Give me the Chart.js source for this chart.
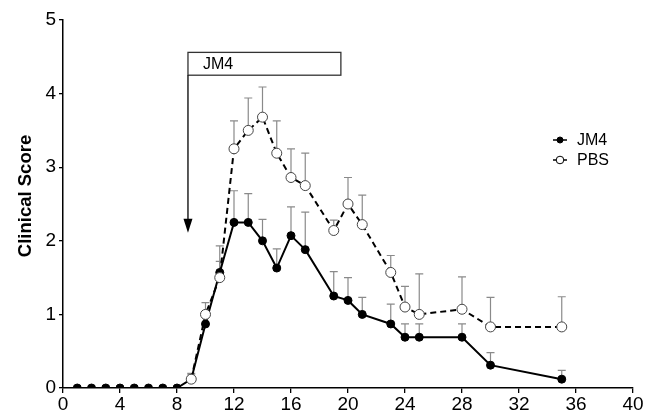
<!DOCTYPE html>
<html><head><meta charset="utf-8">
<script src="https://cdn.jsdelivr.net/npm/chart.js@4.4.0/dist/chart.umd.min.js"></script>
<style>html,body{margin:0;padding:0;background:#fff;}#wrap{width:655px;height:419px;}</style>
</head><body><div id="wrap"><canvas id="c" width="655" height="419"></canvas></div>
<script>
const days = [1,2,3,4,5,6,7,8,9,10,11,12,13,14,15,16,17,19,20,21,23,24,25,28,30,35];
const jm4 = [0,0,0,0,0,0,0,0,0.12,0.87,1.57,2.25,2.25,2.0,1.63,2.07,1.88,1.25,1.19,1.0,0.87,0.69,0.69,0.69,0.31,0.12];
const jm4Err = [0,0,0,0,0,0,0,0,0.08,0.15,0.15,0.43,0.39,0.29,0.26,0.39,0.51,0.33,0.31,0.23,0.27,0.18,0.18,0.18,0.17,0.12];
const pbsDays = [9,10,11,12,13,14,15,16,17,19,20,21,23,24,25,28,30,35];
const pbs = [0.12,1.0,1.5,3.25,3.5,3.68,3.19,2.86,2.75,2.14,2.5,2.22,1.57,1.1,1.0,1.07,0.83,0.83];
const pbsErr = [0.06,0.16,0.43,0.38,0.44,0.41,0.44,0.39,0.44,0.14,0.36,0.4,0.23,0.28,0.55,0.44,0.4,0.41];
const xTicks = [0,4,8,12,16,20,24,28,32,36,40];
const yTicks = [0,1,2,3,4,5];
const seriesNames = ['JM4','PBS'];
const yTitle = 'Clinical Score';
const treatLabel = 'JM4';
const treatStart = 8.77, treatEnd = 19.5, boxTop = 4.56, boxBottom = 4.25, arrowTip = 2.11;

const F = '"Liberation Sans", Arial, sans-serif';

const errPlugin = {
  id: 'err',
  beforeDatasetsDraw(chart) {
    const ctx = chart.ctx, xs = chart.scales.x, ys = chart.scales.y;
    ctx.save();
    ctx.strokeStyle = '#8a8a8a';
    ctx.lineWidth = 1.2;
    const draw = (xv, yv, ev) => {
      if (!ev) return;
      const px = xs.getPixelForValue(xv);
      const p0 = ys.getPixelForValue(yv), p1 = ys.getPixelForValue(yv + ev);
      ctx.beginPath();
      ctx.moveTo(px, p0); ctx.lineTo(px, p1);
      ctx.moveTo(px - 4, p1); ctx.lineTo(px + 4, p1);
      ctx.stroke();
    };
    days.forEach((d, i) => draw(d, jm4[i], jm4Err[i]));
    pbsDays.forEach((d, i) => draw(d, pbs[i], pbsErr[i]));
    ctx.restore();
  },
  afterDraw(chart) {
    const ctx = chart.ctx, xs = chart.scales.x, ys = chart.scales.y;
    ctx.save();
    // y title
    ctx.save();
    ctx.translate(26, 196);
    ctx.rotate(-Math.PI / 2);
    ctx.fillStyle = '#000';
    ctx.font = 'bold 18.5px ' + F;
    ctx.textAlign = 'center'; ctx.textBaseline = 'middle';
    ctx.fillText(yTitle, 0, 0);
    ctx.restore();
    // treatment box
    const l = xs.getPixelForValue(treatStart), r = xs.getPixelForValue(treatEnd);
    const t = ys.getPixelForValue(boxTop), b = ys.getPixelForValue(boxBottom);
    ctx.strokeStyle = '#333';
    ctx.lineWidth = 1.3;
    ctx.strokeRect(l, t, r - l, b - t);
    ctx.fillStyle = '#000';
    ctx.font = '16px ' + F;
    ctx.textBaseline = 'middle';
    ctx.textAlign = 'left';
    ctx.fillText(treatLabel, l + 15, (t + b) / 2 + 1);
    // arrow
    const tip = ys.getPixelForValue(arrowTip);
    ctx.strokeStyle = '#000';
    ctx.lineWidth = 1.3;
    ctx.beginPath(); ctx.moveTo(l, b); ctx.lineTo(l, tip - 10); ctx.stroke();
    ctx.beginPath(); ctx.moveTo(l - 4.5, tip - 14); ctx.lineTo(l + 4.5, tip - 14); ctx.lineTo(l, tip); ctx.closePath(); ctx.fill();
    // legend
    const lx = 553, items = [[140, true], [160, false]];
    items.forEach(([yy, filled], i) => {
      ctx.strokeStyle = '#000'; ctx.lineWidth = 1.5;
      ctx.beginPath(); ctx.moveTo(lx, yy); ctx.lineTo(lx + 14, yy); ctx.stroke();
      ctx.beginPath(); ctx.arc(lx + 7, yy, filled ? 3 : 3.8, 0, Math.PI * 2);
      ctx.fillStyle = filled ? '#000' : '#fff'; ctx.fill();
      ctx.lineWidth = 1; ctx.stroke();
      ctx.fillStyle = '#000';
      ctx.font = '16px ' + F;
      ctx.textAlign = 'left'; ctx.textBaseline = 'middle';
      ctx.fillText(seriesNames[i], 577, yy + 1);
    });
    ctx.restore();
  }
};

new Chart(document.getElementById('c'), {
  type: 'line',
  data: {
    datasets: [
      { label: seriesNames[0], data: days.map((d, i) => ({x: d, y: jm4[i]})),
        borderColor: '#000', backgroundColor: '#000', borderWidth: 2,
        pointRadius: 4, pointBackgroundColor: '#000', pointBorderColor: '#000', pointBorderWidth: 1, order: 2 },
      { label: seriesNames[1], data: pbsDays.map((d, i) => ({x: d, y: pbs[i]})),
        borderColor: '#000', backgroundColor: '#fff', borderWidth: 2, borderDash: [6, 4],
        pointRadius: 5, pointBackgroundColor: '#fff', pointBorderColor: '#444', pointBorderWidth: 1, order: 1 }
    ]
  },
  options: {
    responsive: false, animation: false,
    layout: { padding: { top: 20, right: 22, left: 0, bottom: 0 } },
    plugins: { legend: { display: false }, tooltip: { enabled: false } },
    scales: {
      x: {
        type: 'linear', min: 0, max: 40,
        afterBuildTicks: s => { s.ticks = xTicks.map(v => ({value: v})); },
        afterFit: s => { s.height = 31; },
        grid: { display: true, drawOnChartArea: false, drawTicks: true, tickLength: 5, color: '#000', lineWidth: 1.3 },
        border: { display: true, color: '#000', width: 1.5 },
        ticks: { color: '#000', font: { family: F, size: 19 }, padding: 0, maxRotation: 0 }
      },
      y: {
        type: 'linear', min: 0, max: 5,
        afterBuildTicks: s => { s.ticks = yTicks.map(v => ({value: v})); },
        afterFit: s => { s.width = 63; },
        grid: { display: true, drawOnChartArea: false, drawTicks: true, tickLength: 4, color: '#000', lineWidth: 1.3 },
        border: { display: true, color: '#000', width: 1.5 },
        ticks: { color: '#000', font: { family: F, size: 19 }, padding: 3 },
        title: { display: false }
      }
    }
  },
  plugins: [errPlugin]
});
</script></body></html>
